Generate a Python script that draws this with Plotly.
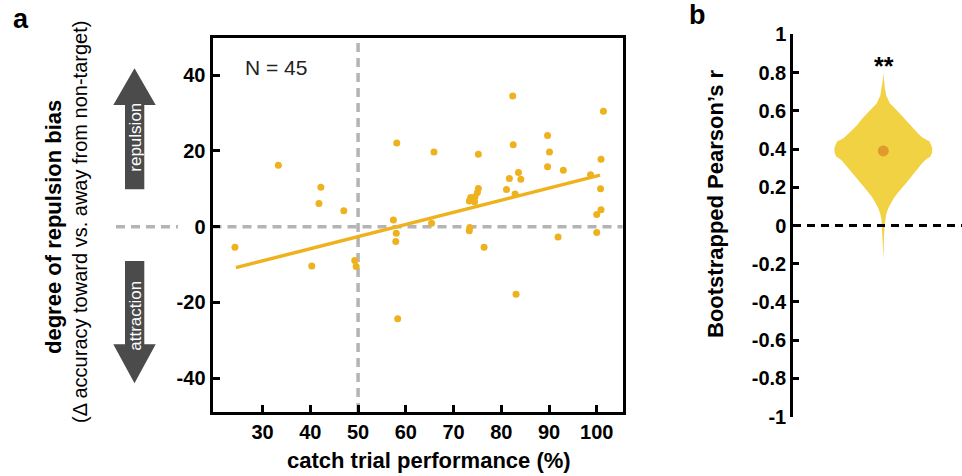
import plotly.graph_objects as go

# ---------------- data: panel a ----------------
catch_perf = [24.2, 33.3, 40.3, 41.8, 42.2, 47.0, 49.3, 49.6, 57.4, 58.1,
              58.0, 57.9, 58.3, 65.4, 65.9, 73.3, 73.6, 75.2, 75.0, 74.5,
              74.4, 75.2, 73.4, 73.3, 76.4, 81.1, 81.7, 82.4, 82.5, 82.9,
              83.6, 84.1, 83.1, 89.7, 90.1, 89.7, 93.0, 91.9, 98.7, 100.9,
              101.4, 100.8, 100.9, 100.0, 100.0]
repulsion_bias = [-5.4, 16.2, -10.4, 6.1, 10.4, 4.2, -8.9, -10.5, 1.8, 22.1,
                  -1.75, -3.9, -24.3, 0.9, 19.7, 6.8, 7.7, 10.1, 9.0, 7.9,
                  6.6, 19.1, -0.2, -1.1, -5.4, 9.8, 12.7, 34.5, 21.6, 8.6,
                  14.3, 12.5, -17.8, 24.1, 19.7, 15.8, 14.9, -2.7, 13.7, 17.8,
                  30.5, 10.0, 4.5, 3.2, -1.5]
fit_x = [24.4, 100.7]
fit_y = [-10.8, 13.6]
x_ticks = [30, 40, 50, 60, 70, 80, 90, 100]
y_ticks = [-40, -20, 0, 20, 40]
y_ticktext = ["-40", "-20", "0", "20", "40"]
n_label = "N = 45"

# ---------------- data: panel b ----------------
violin_r = [0.80, 0.76, 0.72, 0.68, 0.64, 0.60, 0.56, 0.52, 0.48, 0.46, 0.45,
            0.44, 0.42, 0.40, 0.38, 0.36, 0.35, 0.34, 0.32, 0.30, 0.26, 0.22,
            0.18, 0.15, 0.12, 0.09, 0.06, 0.03, 0.00, -0.05, -0.10, -0.18]
violin_halfwidth = [0, 0.5, 1.5, 3, 6.5, 14, 21, 27, 35, 39, 42,
                    46, 48, 49, 48.7, 47, 44, 41.5, 38, 35, 29, 22.5,
                    16, 11.5, 8, 5, 3, 1.8, 1.2, 0.8, 0.5, 0]
mean_r = 0.39
r_ticks = [-1, -0.8, -0.6, -0.4, -0.2, 0, 0.2, 0.4, 0.6, 0.8, 1]
r_ticktext = ["-1", "-0.8", "-0.6", "-0.4", "-0.2", "0", "0.2", "0.4", "0.6", "0.8", "1"]

# ---------------- style ----------------
W, H = 962, 476
FONT = "Liberation Sans, Arial, Helvetica, sans-serif"
GOLD = "#EFB21F"
VIOLIN = "#F1D242"
DOT = "#E39A2C"
ARROW = "#4B4B4B"
GRAYDASH = "#B4B4B4"


def px(x):
    return x / W


def py(y):
    return 1 - y / H


fig = go.Figure()

fig.add_trace(go.Scatter(
    x=catch_perf, y=repulsion_bias, mode="markers",
    marker=dict(color=GOLD, size=7, line=dict(width=0)),
    xaxis="x", yaxis="y", showlegend=False, hoverinfo="skip"))
fig.add_trace(go.Scatter(
    x=fit_x, y=fit_y, mode="lines", line=dict(color=GOLD, width=3.5),
    xaxis="x", yaxis="y", showlegend=False, hoverinfo="skip"))

vx = list(violin_halfwidth) + [-w for w in violin_halfwidth[::-1]]
vy = list(violin_r) + list(violin_r[::-1])
fig.add_trace(go.Scatter(
    x=vx, y=vy, mode="lines", fill="toself", fillcolor=VIOLIN,
    line=dict(width=0, color=VIOLIN), xaxis="x2", yaxis="y2",
    showlegend=False, hoverinfo="skip"))
fig.add_trace(go.Scatter(
    x=[0], y=[mean_r], mode="markers", marker=dict(color=DOT, size=11),
    xaxis="x2", yaxis="y2", showlegend=False, hoverinfo="skip"))

tickfont = dict(family=FONT, size=20, color="black", weight="bold")
axis_common = dict(showgrid=False, zeroline=False, showline=True,
                   linecolor="black", ticks="inside", tickcolor="black",
                   tickfont=tickfont, automargin=False)

fig.update_layout(
    width=W, height=H,
    margin=dict(l=0, r=0, t=0, b=0, pad=0, autoexpand=False),
    paper_bgcolor="white", plot_bgcolor="white",
    xaxis=dict(domain=[px(212.5), px(622.5)], range=[19.5, 105.4],
               tickvals=x_ticks, ticklen=7, tickwidth=2.5, linewidth=3,
               mirror=True, anchor="y", **axis_common),
    yaxis=dict(domain=[py(412), py(38)], range=[-48.9, 49.8],
               tickvals=y_ticks, ticktext=y_ticktext, ticklen=7, tickwidth=2.5,
               linewidth=3, mirror=True, anchor="x", **axis_common),
    xaxis2=dict(domain=[px(793), 1.0], range=[-(883.3 - 793), 962 - 883.3],
                visible=False, anchor="y2"),
    yaxis2=dict(domain=[py(416.7), py(34.3)], range=[-1, 1],
                tickvals=r_ticks, ticktext=r_ticktext, ticklen=6,
                tickwidth=2.5, linewidth=2.5, anchor="x2", **axis_common),
)

shapes = []
shapes.append(dict(type="line", xref="x", yref="y domain", x0=50, x1=50, y0=0, y1=1,
                   line=dict(color=GRAYDASH, width=3.5, dash="9px,6px"), layer="below"))
shapes.append(dict(type="line", xref="x domain", yref="y", x0=0, x1=1, y0=0, y1=0,
                   line=dict(color=GRAYDASH, width=3.5, dash="9px,6px"), layer="below"))
shapes.append(dict(type="line", xref="paper", yref="y", x0=px(116), x1=px(178), y0=0, y1=0,
                   line=dict(color=GRAYDASH, width=3.5, dash="9px,6px")))
shapes.append(dict(type="line", xref="x2 domain", yref="y2", x0=0, x1=1, y0=0, y1=0,
                   line=dict(color="black", width=3, dash="8px,6px"), layer="above"))


def arrow_path(pts):
    return "M " + " L ".join(f"{px(x):.5f},{py(y):.5f}" for x, y in pts) + " Z"


up = [(125, 189.3), (125, 105), (113.3, 105), (134.5, 68.3), (155.7, 105), (144.3, 105), (144.3, 189.3)]
down = [(125, 261), (125, 344.3), (113.3, 344.3), (134.5, 383.3), (155.7, 344.3), (144.3, 344.3), (144.3, 261)]
for pts in (up, down):
    shapes.append(dict(type="path", xref="paper", yref="paper", path=arrow_path(pts),
                       fillcolor=ARROW, line=dict(width=0)))
fig.update_layout(shapes=shapes)

ann = []


def add_text(text, x, y, size, bold=False, angle=0, color="black"):
    ann.append(dict(text=text, xref="paper", yref="paper", x=px(x), y=py(y),
                    xanchor="center", yanchor="middle", showarrow=False,
                    textangle=angle,
                    font=dict(family=FONT, size=size, color=color,
                              weight="bold" if bold else "normal")))


add_text("a", 21, 19, 27, bold=True)
add_text("b", 697, 15, 27, bold=True)
add_text(n_label, 276, 68, 21, color="#222222")
add_text("catch trial performance (%)", 429, 460, 22, bold=True)
add_text("degree of repulsion bias", 53, 227, 22, bold=True, angle=-90)
add_text("(\u0394 accuracy toward vs. away from non-target)", 80, 222, 20, angle=-90)
add_text("repulsion", 134.7, 137, 17, angle=-90, color="white")
add_text("attraction", 134.7, 316, 17, angle=-90, color="white")
add_text("Bootstrapped Pearson\u2019s r", 715, 204, 22, bold=True, angle=-90)
add_text("**", 883.5, 66, 25, bold=True)
fig.update_layout(annotations=ann)

fig.write_html("out.html", config={"displayModeBar": False},
               post_script="document.body.style.margin='0px';document.body.style.overflow='hidden';")
